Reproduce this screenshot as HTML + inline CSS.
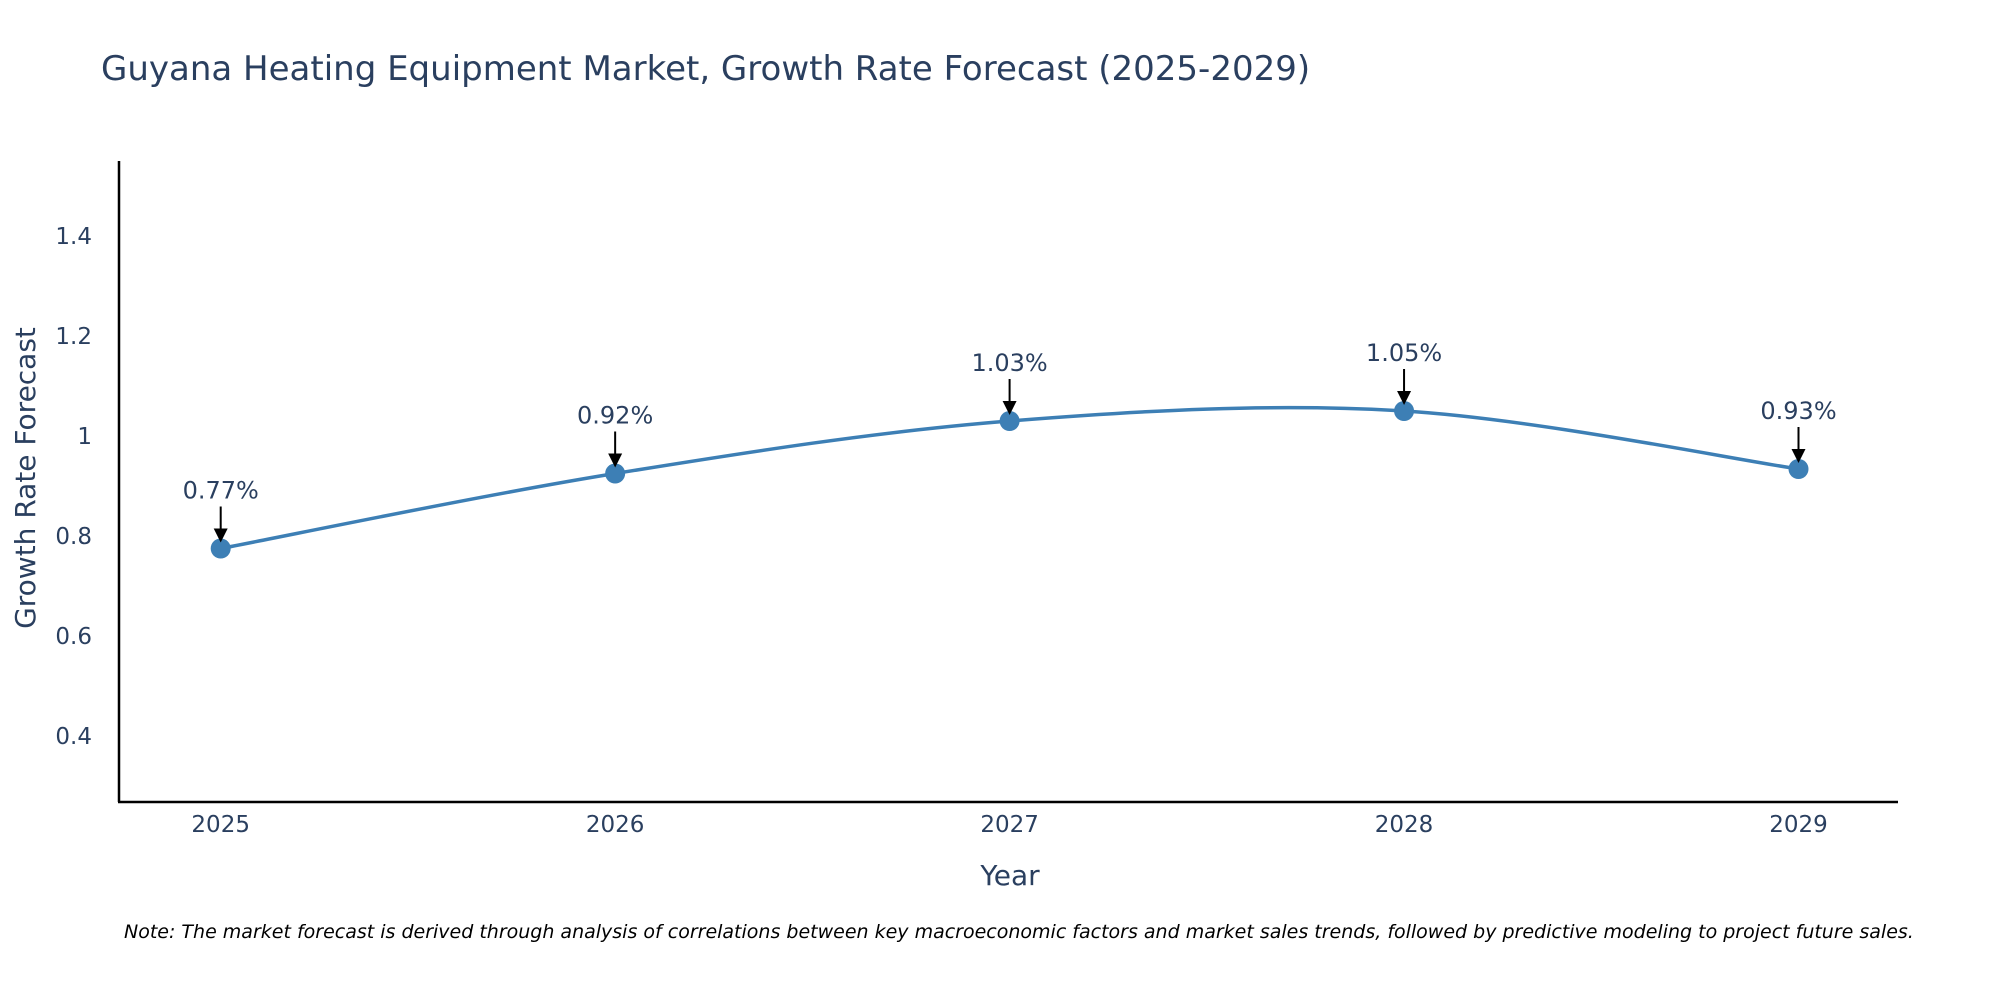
<!DOCTYPE html>
<html><head><meta charset="utf-8">
<style>
html,body{margin:0;padding:0;background:#fff;}
svg{display:block;font-family:"DejaVu Sans","Liberation Sans",sans-serif;}
</style></head>
<body>
<svg id="chart" width="2000" height="1000" viewBox="0 0 2000 1000" xmlns="http://www.w3.org/2000/svg">
<text x="101" y="80" font-size="34" fill="#2a3f5f">Guyana Heating Equipment Market, Growth Rate Forecast (2025-2029)</text>
<g id="yticks"></g>
<g id="xticks"></g>
<line x1="119" y1="161" x2="119" y2="802" stroke="#000" stroke-width="2.5"/>
<line x1="118" y1="802" x2="1898" y2="802" stroke="#000" stroke-width="2.5"/>
<text transform="translate(35,478) rotate(-90)" text-anchor="middle" font-size="28" fill="#2a3f5f">Growth Rate Forecast</text>
<text x="1010" y="885" text-anchor="middle" font-size="28" fill="#2a3f5f">Year</text>
<g id="series"></g>
<text x="124" y="938" font-size="19" font-style="italic" fill="#000">Note: The market forecast is derived through analysis of correlations between key macroeconomic factors and market sales trends, followed by predictive modeling to project future sales.</text>
</svg>
<script>
const years = [2025, 2026, 2027, 2028, 2029];
const values = [0.775, 0.925, 1.03, 1.05, 0.934];
const labels = ["0.77%", "0.92%", "1.03%", "1.05%", "0.93%"];
const yTicks = [0.4, 0.6, 0.8, 1, 1.2, 1.4];
const yTickLabels = ["0.4", "0.6", "0.8", "1", "1.2", "1.4"];

const NS = "http://www.w3.org/2000/svg";
function xs(yr){ return 220.7 + (yr - 2025) * 394.45; }
function ys(v){ return 736 - (v - 0.4) * 500; }
function mk(tag, attrs, parent){ const e = document.createElementNS(NS, tag); for (const k in attrs) e.setAttribute(k, attrs[k]); parent.appendChild(e); return e; }

const yg = document.getElementById('yticks');
yTicks.forEach((t, i) => {
  const el = mk('text', {x: 92, y: ys(t) + 8, 'text-anchor': 'end', 'font-size': 23, fill: '#2a3f5f'}, yg);
  
  
  el.textContent = yTickLabels[i];
});
const xg = document.getElementById('xticks');
years.forEach(yr => {
  const el = mk('text', {x: xs(yr), y: 832, 'text-anchor': 'middle', 'font-size': 23, fill: '#2a3f5f'}, xg);
  
  
  el.textContent = String(yr);
});

const sg = document.getElementById('series');
const pts = years.map((yr, i) => [xs(yr), ys(values[i])]);
let d = `M${pts[0][0]},${pts[0][1]}`;
for (let i = 0; i < pts.length - 1; i++) {
  const p0 = pts[i - 1] || pts[i], p1 = pts[i], p2 = pts[i + 1], p3 = pts[i + 2] || p2;
  const c1 = [p1[0] + (p2[0] - p0[0]) / 6, p1[1] + (p2[1] - p0[1]) / 6];
  const c2 = [p2[0] - (p3[0] - p1[0]) / 6, p2[1] - (p3[1] - p1[1]) / 6];
  d += ` C${c1[0]},${c1[1]} ${c2[0]},${c2[1]} ${p2[0]},${p2[1]}`;
}
const line = mk('path', {d: d, fill: 'none', stroke: '#3d7fb5', 'stroke-width': 3.5}, sg);



pts.forEach((p, i) => {
  const c = mk('circle', {cx: p[0], cy: p[1], r: 10, fill: '#3d7fb5'}, sg);
  
  
  const a = mk('line', {x1: p[0], y1: p[1] - 42, x2: p[0], y2: p[1] - 20, stroke: '#000', 'stroke-width': 2}, sg);
  
  
  const h = mk('polygon', {points: `${p[0]-7},${p[1]-20} ${p[0]+7},${p[1]-20} ${p[0]},${p[1]-6}`, fill: '#000'}, sg);
  
  
  const t = mk('text', {x: p[0], y: p[1] - 50, 'text-anchor': 'middle', 'font-size': 24, fill: '#2a3f5f'}, sg);
  
  
  t.textContent = labels[i];
});
</script>
</body></html>
